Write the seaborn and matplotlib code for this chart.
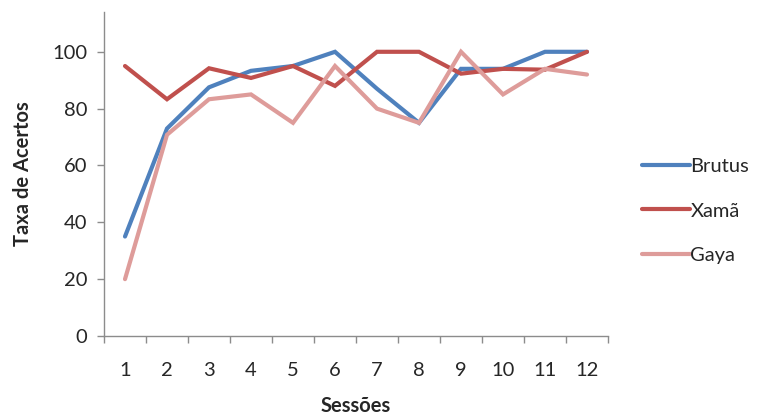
import matplotlib
matplotlib.use("Agg")
import matplotlib.pyplot as plt
import seaborn as sns
import pandas as pd

sessoes = list(range(1, 13))
brutus = [35, 73, 87.5, 93.3, 95, 100, 87, 75, 94, 94, 100, 100]
xama = [95, 83.3, 94.2, 90.8, 95, 88, 100, 100, 92.3, 94, 93.7, 100]
gaya = [20, 70.8, 83.3, 85, 75, 95, 80, 75, 100, 85, 94, 92]
series = ["Brutus", "Xamã", "Gaya"]
cores = ["#4F81BD", "#C0504D", "#DE9C9A"]

df = pd.DataFrame({
    "Sessões": sessoes * 3,
    "Taxa": brutus + xama + gaya,
    "Animal": sum([[s] * 12 for s in series], []),
})

sns.set_theme(style="white")
plt.rcParams["font.family"] = ["Lato", "DejaVu Sans"]

fig = plt.figure(figsize=(7.59, 4.19), dpi=100)
ax = fig.add_axes([104 / 759, 1 - 336 / 419, 504 / 759, 324 / 419])

sns.lineplot(data=df, x="Sessões", y="Taxa", hue="Animal", hue_order=series,
             palette=cores, linewidth=3.0, ax=ax, legend=False,
             solid_capstyle="round", solid_joinstyle="miter")

ax.set_xlim(0.5, 12.5)
ax.set_ylim(0, 114)
ax.set_yticks([0, 20, 40, 60, 80, 100])
ax.set_xticks(sessoes)
ax.set_xticks([i + 0.5 for i in range(0, 13)], minor=True)

grey = "#8c8c8c"
for side in ["top", "right"]:
    ax.spines[side].set_visible(False)
for side in ["left", "bottom"]:
    ax.spines[side].set_color(grey)
    ax.spines[side].set_linewidth(1.0)

ax.tick_params(axis="y", which="major", direction="out", length=5, width=1,
               color=grey, labelsize=14.5, labelcolor="#262626", pad=7, left=True)
ax.tick_params(axis="x", which="major", length=0, labelsize=14.5,
               labelcolor="#262626", pad=19)
ax.tick_params(axis="x", which="minor", direction="out", length=5, width=1,
               color=grey, bottom=True)

ax.set_xlabel("Sessões", fontsize=14.5, fontweight="bold", color="#262626", labelpad=12)
ax.set_ylabel("Taxa de Acertos", fontsize=14.5, fontweight="bold", color="#262626", labelpad=14)

handles = [plt.Line2D([], [], color=c, linewidth=3.0) for c in cores]
fig.legend(handles, series, loc="upper left", bbox_to_anchor=(624 / 759, 1 - 140 / 419),
           frameon=False, fontsize=14.5, handlelength=2.4, handletextpad=0.0,
           labelspacing=1.35, labelcolor="#262626")

fig.savefig("out.png", dpi=100)
